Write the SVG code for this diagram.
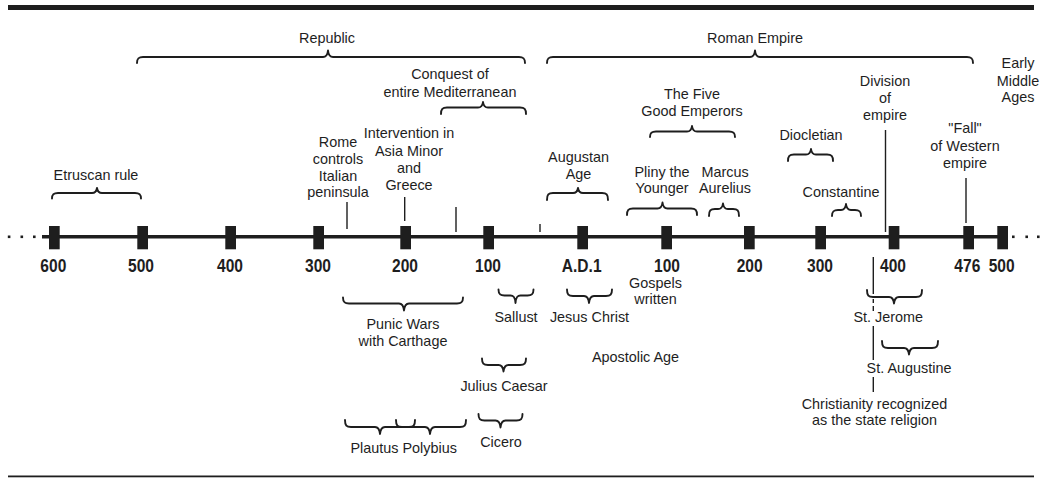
<svg xmlns="http://www.w3.org/2000/svg" width="1042" height="478" viewBox="0 0 1042 478">
<style>
  .t { font-family: "Liberation Sans", Arial, sans-serif; font-size: 14.4px; fill: #1e1e1e; text-anchor: middle; }
  .yr { font-family: "Liberation Sans", Arial, sans-serif; font-size: 19px; font-weight: bold; fill: #1e1e1e; text-anchor: middle; }
  .br { fill: none; stroke: #1e1e1e; stroke-width: 1.9; stroke-linecap: round; stroke-linejoin: round; }
  .ln { stroke: #1e1e1e; stroke-width: 1.4; }
  .tick { fill: #1e1e1e; }
  .dot { fill: #1e1e1e; }
</style>
<rect width="1042" height="478" fill="#ffffff"/>
<g id="frame">
  <rect x="8" y="5" width="1026" height="5" fill="#1e1e1e"/>
  <rect x="8" y="475.5" width="1026" height="1.8" fill="#1e1e1e"/>
</g>
<g id="timeline">
  <rect x="42" y="235" width="966" height="3.5" fill="#1e1e1e"/>
  <rect class="dot" x="7.8" y="235.5" width="2.6" height="2.6"/>
  <rect class="dot" x="20.5" y="235.5" width="2.6" height="2.6"/>
  <rect class="dot" x="33" y="235.5" width="2.6" height="2.6"/>
  <rect class="dot" x="1012" y="235.5" width="2.6" height="2.6"/>
  <rect class="dot" x="1025.4" y="235.5" width="2.6" height="2.6"/>
  <rect class="dot" x="1037" y="235.5" width="2.6" height="2.6"/>
  <rect class="tick" x="49" y="226" width="10.7" height="23.3"/>
  <rect class="tick" x="137.3" y="226" width="10.7" height="23.3"/>
  <rect class="tick" x="225.3" y="226" width="10.7" height="23.3"/>
  <rect class="tick" x="313.3" y="226" width="10.7" height="23.3"/>
  <rect class="tick" x="400.3" y="226" width="10.7" height="23.3"/>
  <rect class="tick" x="483.3" y="226" width="10.7" height="23.3"/>
  <rect class="tick" x="577.3" y="226" width="10.7" height="23.3"/>
  <rect class="tick" x="661.3" y="226" width="10.7" height="23.3"/>
  <rect class="tick" x="744" y="226" width="10.7" height="23.3"/>
  <rect class="tick" x="815.3" y="226" width="10.7" height="23.3"/>
  <rect class="tick" x="888.7" y="226" width="10.7" height="23.3"/>
  <rect class="tick" x="963.3" y="226" width="10.7" height="23.3"/>
  <rect class="tick" x="997.3" y="226" width="10.7" height="23.3"/>
  <text class="yr" transform="translate(53.3,271.7) scale(0.82,1)">600</text>
  <text class="yr" transform="translate(141,271.7) scale(0.82,1)">500</text>
  <text class="yr" transform="translate(230,271.7) scale(0.82,1)">400</text>
  <text class="yr" transform="translate(318,271.7) scale(0.82,1)">300</text>
  <text class="yr" transform="translate(405,271.7) scale(0.82,1)">200</text>
  <text class="yr" transform="translate(488,271.7) scale(0.82,1)">100</text>
  <text class="yr" transform="translate(581.7,271.7) scale(0.82,1)">A.D.1</text>
  <text class="yr" transform="translate(667,271.7) scale(0.82,1)">100</text>
  <text class="yr" transform="translate(749.7,271.7) scale(0.82,1)">200</text>
  <text class="yr" transform="translate(820,271.7) scale(0.82,1)">300</text>
  <text class="yr" transform="translate(893,271.7) scale(0.82,1)">400</text>
  <text class="yr" transform="translate(967.3,271.7) scale(0.82,1)">476</text>
  <text class="yr" transform="translate(1001.7,271.7) scale(0.82,1)">500</text>
</g>
<g id="connectors">
  <line class="ln" x1="347" y1="202" x2="347" y2="229"/>
  <line class="ln" x1="404.7" y1="197" x2="404.7" y2="221"/>
  <line class="ln" x1="456" y1="207" x2="456" y2="232"/>
  <line class="ln" x1="540" y1="224" x2="540" y2="232"/>
  <line class="ln" x1="885.5" y1="130" x2="885.5" y2="232"/>
  <line class="ln" x1="966" y1="178" x2="966" y2="223"/>
  <line class="ln" x1="873.3" y1="257" x2="873.3" y2="294"/>
  <line class="ln" x1="873.3" y1="299" x2="873.3" y2="303"/>
  <line class="ln" x1="873.3" y1="306" x2="873.3" y2="311"/>
  <line class="ln" x1="873.3" y1="326" x2="873.3" y2="360"/>
  <line class="ln" x1="873.3" y1="377" x2="873.3" y2="392"/>
</g>
<g id="republic">
  <text class="t" x="327" y="42.7">Republic</text>
  <path class="br" d="M137 63 C137 58.5 138.5 57 143 57 L323 57 C326 57 327.5 55.5 328 50.5 C328.5 55.5 330 57 333 57 L519 57 C523.5 57 525 58.5 525 63"/>
</g>
<g id="roman-empire">
  <text class="t" x="755" y="42.7">Roman Empire</text>
  <path class="br" d="M547 63 C547 58.5 548.5 57 553 57 L750 57 C753 57 754.5 55.5 755 50.5 C755.5 55.5 757 57 760 57 L967 57 C971.5 57 973 58.5 973 63"/>
</g>
<g id="conquest">
  <text class="t" x="450" y="79">Conquest of</text>
  <text class="t" x="450" y="96.7">entire Mediterranean</text>
  <path class="br" d="M441 114 C441 109 442.5 107.5 447 107.5 L478 107.5 C481 107.5 482.5 106 483 102 C483.5 106 485 107.5 488 107.5 L520 107.5 C524.5 107.5 526 109 526 114"/>
</g>
<g id="early-middle-ages">
  <text class="t" x="1018" y="68.3">Early</text>
  <text class="t" x="1018" y="85.7">Middle</text>
  <text class="t" x="1018" y="102">Ages</text>
</g>
<g id="division">
  <text class="t" x="885" y="86">Division</text>
  <text class="t" x="885" y="103.3">of</text>
  <text class="t" x="885" y="120">empire</text>
</g>
<g id="five-good-emperors">
  <text class="t" x="692" y="99">The Five</text>
  <text class="t" x="692" y="115.7">Good Emperors</text>
  <path class="br" d="M650 137 C650 133 651.5 131.5 656 131.5 L687 131.5 C690 131.5 691.5 130 692 126 C692.5 130 694 131.5 697 131.5 L729 131.5 C733.5 131.5 735 133 735 137"/>
</g>
<g id="intervention">
  <text class="t" x="409" y="138.3">Intervention in</text>
  <text class="t" x="409" y="155.5">Asia Minor</text>
  <text class="t" x="409" y="172.7">and</text>
  <text class="t" x="409" y="190">Greece</text>
</g>
<g id="rome-controls">
  <text class="t" x="338" y="147">Rome</text>
  <text class="t" x="338" y="164">controls</text>
  <text class="t" x="338" y="180.7">Italian</text>
  <text class="t" x="338" y="197">peninsula</text>
</g>
<g id="fall">
  <text class="t" x="965" y="133.3">"Fall"</text>
  <text class="t" x="965" y="150.7">of Western</text>
  <text class="t" x="965" y="168.3">empire</text>
</g>
<g id="diocletian">
  <text class="t" x="811" y="140">Diocletian</text>
  <path class="br" d="M788 161 C788 156 789.5 154.5 794 154.5 L806 154.5 C809 154.5 810.5 153 811 149 C811.5 153 813 154.5 816 154.5 L827 154.5 C831.5 154.5 833 156 833 161"/>
</g>
<g id="augustan-age">
  <text class="t" x="578.5" y="161.7">Augustan</text>
  <text class="t" x="578.5" y="179.3">Age</text>
  <path class="br" d="M547 200 C547 194.5 548.5 193 553 193 L573 193 C576 193 577.5 191.5 578 188 C578.5 191.5 580 193 583 193 L602 193 C606.5 193 608 194.5 608 200"/>
</g>
<g id="etruscan">
  <text class="t" x="96" y="180">Etruscan rule</text>
  <path class="br" d="M52 198.5 C52 194.5 53.5 193 58 193 L92 193 C95 193 96.5 191.5 97 188 C97.5 191.5 99 193 102 193 L135 193 C139.5 193 141 194.5 141 198.5"/>
</g>
<g id="pliny">
  <text class="t" x="662" y="176.7">Pliny the</text>
  <text class="t" x="662" y="193.3">Younger</text>
  <path class="br" d="M627 215 C627 210 628.5 208.5 633 208.5 L657.5 208.5 C660.5 208.5 662 207 662.5 202.5 C663 207 664.5 208.5 667.5 208.5 L691 208.5 C695.5 208.5 697 210 697 215"/>
</g>
<g id="marcus">
  <text class="t" x="725" y="176.7">Marcus</text>
  <text class="t" x="725" y="193.3">Aurelius</text>
  <path class="br" d="M709 216 C709 210.5 710.5 209 715 209 L718 209 C721 209 722.5 207.5 723 203.5 C723.5 207.5 725 209 728 209 L733 209 C737.5 209 739 210.5 739 216"/>
</g>
<g id="constantine">
  <text class="t" x="841" y="196.7">Constantine</text>
  <path class="br" d="M832 216 C832 211.5 833.5 210 838 210 L841 210 C844 210 845.5 208.5 846 204 C846.5 208.5 848 210 851 210 L855 210 C859.5 210 861 211.5 861 216"/>
</g>
<g id="gospels">
  <text class="t" x="655.5" y="288">Gospels</text>
  <text class="t" x="655.5" y="304">written</text>
</g>
<g id="punic-wars">
  <path class="br" d="M343 297.5 C343 302 344.5 303.5 349 303.5 L399 303.5 C402 303.5 403.5 305 404 310.5 C404.5 305 406 303.5 409 303.5 L457 303.5 C461.5 303.5 463 302 463 297.5"/>
  <text class="t" x="403" y="329.3">Punic Wars</text>
  <text class="t" x="403" y="346">with Carthage</text>
</g>
<g id="sallust">
  <path class="br" d="M498.5 289.5 C498.5 294 500 295.5 504.5 295.5 L510.5 295.5 C513.5 295.5 515 297 515.5 303 C516 297 517.5 295.5 520.5 295.5 L527.5 295.5 C532 295.5 533.5 294 533.5 289.5"/>
  <text class="t" x="516" y="321.7">Sallust</text>
</g>
<g id="jesus-christ">
  <path class="br" d="M567 289.5 C567 294.5 568.5 296 573 296 L584 296 C587 296 588.5 297.5 589 303 C589.5 297.5 591 296 594 296 L606 296 C610.5 296 612 294.5 612 289.5"/>
  <text class="t" x="589.5" y="321.7">Jesus Christ</text>
</g>
<g id="apostolic-age">
  <text class="t" x="635.5" y="361.7">Apostolic Age</text>
</g>
<g id="julius-caesar">
  <path class="br" d="M482 358.5 C482 363.5 483.5 365 488 365 L498.5 365 C501.5 365 503 366.5 503.5 371.5 C504 366.5 505.5 365 508.5 365 L520 365 C524.5 365 526 363.5 526 358.5"/>
  <text class="t" x="504" y="390.7">Julius Caesar</text>
</g>
<g id="cicero">
  <path class="br" d="M478.5 414 C478.5 419 480 420.5 484.5 420.5 L495.5 420.5 C498.5 420.5 500 422 500.5 427.5 C501 422 502.5 420.5 505.5 420.5 L516.5 420.5 C521 420.5 522.5 419 522.5 414"/>
  <text class="t" x="501" y="446.7">Cicero</text>
</g>
<g id="plautus-polybius">
  <path class="br" d="M345 420 C345 425.5 346.5 427 351 427 L375 427 C378 427 379.5 428.5 380 434 C380.5 428.5 382 427 385 427 L409 427 C413.5 427 415 425.5 415 420"/>
  <path class="br" d="M396 420 C396 425.5 397.5 427 402 427 L425 427 C428 427 429.5 428.5 430 434 C430.5 428.5 432 427 435 427 L460 427 C464.5 427 466 425.5 466 420"/>
  <text class="t" x="403.7" y="453.3">Plautus Polybius</text>
</g>
<g id="st-jerome">
  <path class="br" d="M867 290 C867 295.5 868.5 297 873 297 L889 297 C892 297 893.5 298.5 894 303.5 C894.5 298.5 896 297 899 297 L916 297 C920.5 297 922 295.5 922 290"/>
  <text class="t" x="888.3" y="321.7">St. Jerome</text>
</g>
<g id="st-augustine">
  <path class="br" d="M882 341 C882 346.5 883.5 348 888 348 L904 348 C907 348 908.5 349.5 909 354.5 C909.5 349.5 911 348 914 348 L932 348 C936.5 348 938 346.5 938 341"/>
  <text class="t" x="909" y="372.7">St. Augustine</text>
</g>
<g id="christianity">
  <text class="t" x="874.5" y="409.3">Christianity recognized</text>
  <text class="t" x="874.5" y="425">as the state religion</text>
</g>
</svg>
